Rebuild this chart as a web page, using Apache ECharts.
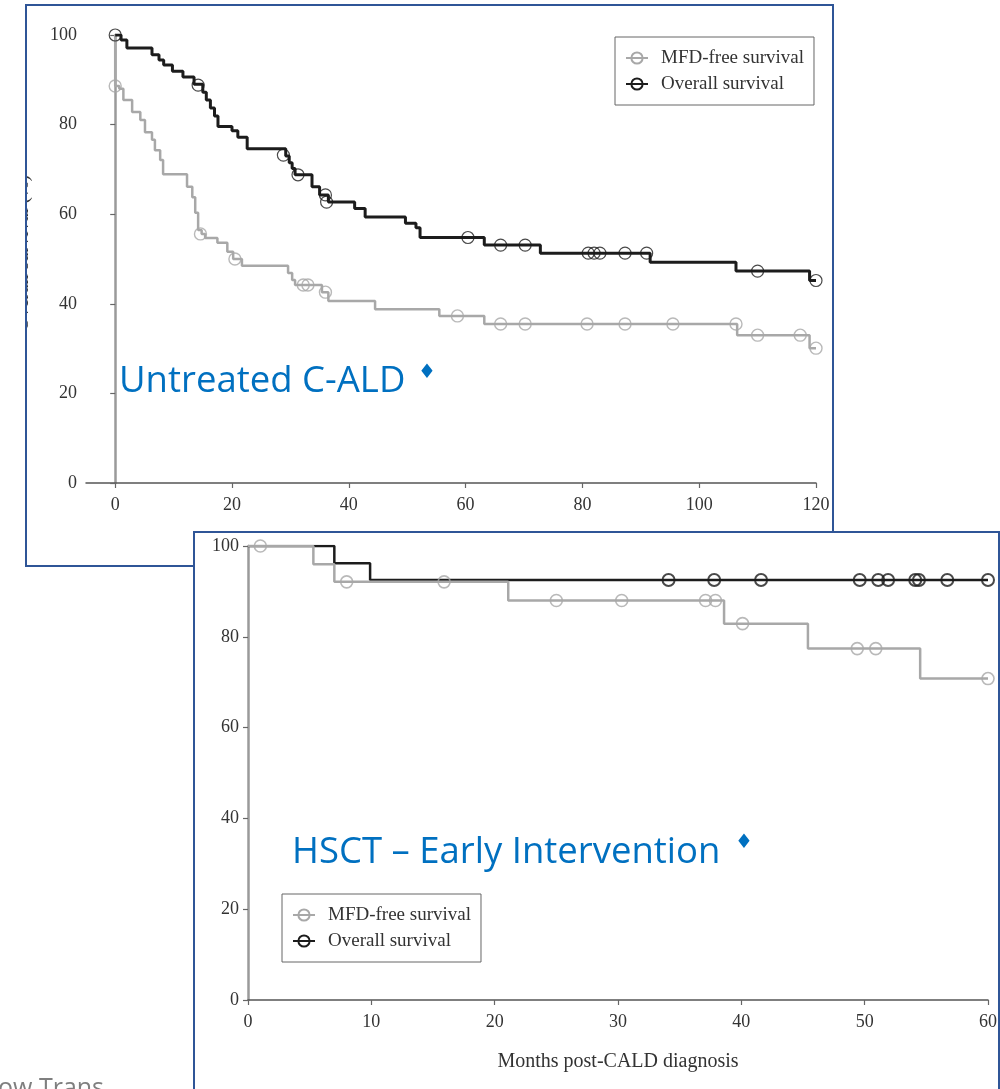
<!DOCTYPE html>
<html>
<head>
<meta charset="utf-8">
<script src="https://cdn.jsdelivr.net/npm/echarts@6/dist/echarts.min.js"></script>
<style>
  html, body { margin: 0; padding: 0; background: #ffffff; }
  #chart { width: 1000px; height: 1089px; }
</style>
</head>
<body>
<div id="chart"></div>
<script>
// Kaplan–Meier curves: [months, % surviving] at each event, plus censored observations.
const seriesNames = ['MFD-free survival', 'Overall survival'];

// Untreated C-ALD cohort
const untreatedMfdSteps = [
  [0, 100], [0, 88.6], [0.7, 88.0], [1.4, 85.5], [2.9, 82.8], [4.3, 81.0], [5.1, 78.3],
  [6.3, 76.6], [6.8, 74.3], [7.7, 72.1], [8.2, 68.9], [12.3, 66.1], [13.2, 63.8],
  [13.7, 60.3], [14.2, 56.5], [14.8, 55.6], [15.4, 54.7], [17.5, 53.6], [19.2, 51.6],
  [20.2, 50.0], [21.7, 48.5], [29.6, 46.9], [30.3, 45.3], [30.8, 44.2], [35.4, 42.6],
  [36.5, 40.6], [44.5, 38.8], [55.5, 37.3], [63.2, 35.5], [106.5, 33.0], [118.9, 30.1],
  [120, 30.1]
];
const untreatedMfdCensored = [
  [0, 88.6], [14.6, 55.6], [20.5, 50.0], [32.2, 44.2], [33.0, 44.2], [36.0, 42.6],
  [58.6, 37.3], [66.0, 35.5], [70.2, 35.5], [80.8, 35.5], [87.3, 35.5], [95.5, 35.5],
  [106.3, 35.5], [110.0, 33.0], [117.3, 33.0], [120, 30.1]
];
const untreatedOsSteps = [
  [0, 100], [1, 98.9], [2, 97.1], [6.3, 95.6], [7.5, 94.4], [8.3, 93.3], [9.8, 91.9],
  [11.6, 90.6], [13.5, 89.0], [15, 87.2], [15.6, 85.5], [16.3, 83.7], [17, 81.9],
  [17.6, 79.6], [20, 78.6], [21, 77.2], [22.6, 74.6], [29.2, 73.0], [29.8, 71.5],
  [30.3, 70.2], [30.8, 68.8], [33.7, 66.1], [35.0, 64.3], [36.5, 62.7], [41, 61.3],
  [42.8, 59.4], [49.7, 58.0], [51.5, 57.0], [52.2, 54.8], [63.2, 53.1], [72.8, 51.3],
  [91.6, 49.3], [106.3, 47.3], [118.9, 45.2], [120, 45.2]
];
const untreatedOsCensored = [
  [0, 100], [14.2, 88.8], [28.8, 73.2], [31.3, 68.8], [36.0, 64.3], [36.2, 62.7],
  [60.4, 54.8], [66.0, 53.1], [70.2, 53.1], [81.0, 51.3], [82.0, 51.3], [83.0, 51.3],
  [87.3, 51.3], [91.0, 51.3], [110.0, 47.3], [120, 45.2]
];

// HSCT – early intervention cohort
const hsctMfdSteps = [
  [0, 100], [5.3, 96.0], [7.0, 92.1], [21.1, 88.0], [38.6, 82.9], [45.4, 77.4],
  [54.5, 70.8], [60, 70.8]
];
const hsctMfdCensored = [
  [1.0, 100], [8.0, 92.1], [15.9, 92.1], [25.0, 88.0], [30.3, 88.0], [37.1, 88.0],
  [37.9, 88.0], [40.1, 82.9], [49.4, 77.4], [50.9, 77.4], [60, 70.8]
];
const hsctOsSteps = [
  [0, 100], [7.0, 96.2], [9.9, 92.5], [60, 92.5]
];
const hsctOsCensored = [
  [34.1, 92.5], [37.8, 92.5], [41.6, 92.5], [49.6, 92.5], [51.1, 92.5], [51.9, 92.5],
  [54.1, 92.5], [54.4, 92.5], [56.7, 92.5], [60, 92.5]
];

// Axis tick values
const untreatedXTicks = [0, 20, 40, 60, 80, 100, 120];
const hsctXTicks = [0, 10, 20, 30, 40, 50, 60];
const survivalTicks = [0, 20, 40, 60, 80, 100];

const SERIF = 'Liberation Serif';
const GREY = '#a8a8a8';
const BLACK = '#1c1c1c';
const FRAME = '#2f5597';
const NOTE = '#0070c0';

function yAxisFor(gridIndex) {
  return {
    type: 'value', gridIndex, min: 0, max: 100,
    axisLine: { show: true, lineStyle: { color: '#9a9a9a', width: 2.5 } },
    axisTick: { show: true, length: 5, customValues: survivalTicks, lineStyle: { color: '#666', width: 1.2 } },
    axisLabel: { customValues: survivalTicks, fontFamily: SERIF, fontSize: 18, color: '#333', margin: 9 },
    splitLine: { show: false }
  };
}

function xAxisFor(gridIndex, min, max, ticks, extra) {
  return Object.assign({
    type: 'value', gridIndex, min, max,
    axisLine: { show: true, onZero: false, lineStyle: { color: '#555', width: 1.5 } },
    axisTick: { show: true, length: 5, customValues: ticks, lineStyle: { color: '#666', width: 1.2 } },
    axisLabel: { customValues: ticks, fontFamily: SERIF, fontSize: 18, color: '#333', margin: 13 },
    splitLine: { show: false }
  }, extra || {});
}

function curve(name, data, color, width, axisIndex, z) {
  return {
    name, type: 'line', step: 'end', data,
    xAxisIndex: axisIndex, yAxisIndex: axisIndex,
    showSymbol: false, symbol: 'circle', symbolSize: 11,
    itemStyle: { color: 'rgba(0,0,0,0)', borderColor: color, borderWidth: 1.6 },
    lineStyle: { color, width },
    emphasis: { disabled: true }, z, animation: false
  };
}

function censored(name, data, color, borderWidth, axisIndex, z) {
  return {
    name, type: 'scatter', data,
    xAxisIndex: axisIndex, yAxisIndex: axisIndex,
    symbol: 'circle', symbolSize: 12,
    itemStyle: { color: 'rgba(0,0,0,0)', borderColor: color, borderWidth },
    emphasis: { disabled: true }, z, animation: false
  };
}

function legendAt(left, top) {
  return {
    left, top, orient: 'vertical', data: seriesNames,
    borderColor: '#666', borderWidth: 1, backgroundColor: '#fff',
    padding: [11, 10, 11, 10], itemGap: 6, itemWidth: 22, itemHeight: 14,
    selectedMode: false,
    textStyle: { fontFamily: SERIF, fontSize: 19, color: '#333', lineHeight: 20, padding: [0, 0, 0, 8] }
  };
}

const chart = echarts.init(document.getElementById('chart'), null, { renderer: 'canvas' });

chart.setOption({
  animation: false,
  backgroundColor: '#ffffff',
  grid: [
    { left: 86, right: 184, top: 35, bottom: 606, containLabel: false },
    { left: 248, right: 10, top: 546, bottom: 89, containLabel: false }
  ],
  xAxis: [
    xAxisFor(0, -5, 120, untreatedXTicks),
    xAxisFor(1, 0, 60, hsctXTicks, {
      name: 'Months post-CALD diagnosis', nameLocation: 'middle', nameGap: 52,
      nameTextStyle: { fontFamily: SERIF, fontSize: 20, color: '#333' }
    })
  ],
  yAxis: [yAxisFor(0), yAxisFor(1)],
  legend: [legendAt(615, 37), legendAt(282, 894)],
  series: [
    curve('Overall survival', untreatedOsSteps, BLACK, 3, 0, 3),
    curve('MFD-free survival', untreatedMfdSteps, GREY, 2.5, 0, 2),
    censored('Overall survival – censored', untreatedOsCensored, BLACK, 1.2, 0, 5),
    censored('MFD-free survival – censored', untreatedMfdCensored, GREY, 1.4, 0, 4),

    curve('Overall survival', hsctOsSteps, BLACK, 2.5, 1, 2),
    curve('MFD-free survival', hsctMfdSteps, GREY, 2.5, 1, 3),
    censored('HSCT overall survival – censored', hsctOsCensored, BLACK, 2, 1, 5),
    censored('HSCT MFD-free survival – censored', hsctMfdCensored, GREY, 1.6, 1, 4)
  ],
  graphic: [
    // y-axis title of the upper panel, mostly tucked behind the frame edge
    {
      type: 'text', x: 23, y: 253, rotation: Math.PI / 2, z: 1,
      style: { text: 'Overall survival (%)', font: '19px "Liberation Serif"', fill: '#333', align: 'center', verticalAlign: 'middle' }
    },
    { type: 'rect', shape: { x: 0, y: 140, width: 25, height: 230 }, style: { fill: '#ffffff' }, z: 2 },
    // panel frames
    {
      type: 'polyline', z: 3,
      shape: { points: [[194, 566], [26, 566], [26, 5], [833, 5], [833, 532]] },
      style: { stroke: FRAME, lineWidth: 2, fill: null }
    },
    {
      type: 'polyline', z: 3,
      shape: { points: [[194, 1100], [194, 532], [999, 532], [999, 1100]] },
      style: { stroke: FRAME, lineWidth: 2, fill: null }
    },
    // panel captions
    {
      type: 'text', x: 119, y: 382, z: 3,
      style: { text: 'Untreated C-ALD', font: '36.5px "Open Sans"', fill: NOTE, align: 'left', verticalAlign: 'middle' }
    },
    {
      type: 'text', x: 427, y: 373, z: 3,
      style: { text: '♦', font: '20px "DejaVu Sans"', fill: NOTE, align: 'center', verticalAlign: 'middle' }
    },
    {
      type: 'text', x: 292, y: 853, z: 3,
      style: { text: 'HSCT – Early Intervention', font: '36.5px "Open Sans"', fill: NOTE, align: 'left', verticalAlign: 'middle' }
    },
    {
      type: 'text', x: 744, y: 843, z: 3,
      style: { text: '♦', font: '20px "DejaVu Sans"', fill: NOTE, align: 'center', verticalAlign: 'middle' }
    },
    // slide footer text running off the page
    {
      type: 'text', x: -2, y: 1089, z: 3,
      style: { text: 'ow Trans', font: '25px "Open Sans"', fill: '#7f7f7f', align: 'left', verticalAlign: 'middle' }
    }
  ]
});
</script>
</body>
</html>
